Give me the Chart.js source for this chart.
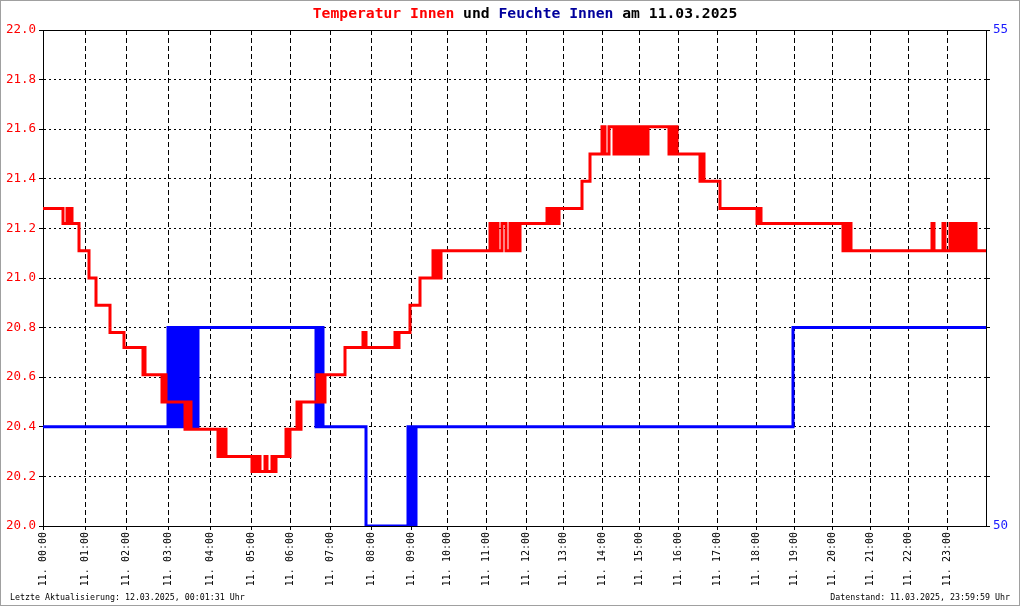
<!DOCTYPE html>
<html>
<head>
<meta charset="utf-8">
<script src="https://cdn.jsdelivr.net/npm/chart.js@4/dist/chart.umd.min.js"></script>
<style>
html,body{margin:0;padding:0;background:#fff;}
#wrap{width:1020px;height:606px;position:relative;}
</style>
</head>
<body>
<div id="wrap"><canvas id="c" width="1020" height="606"></canvas></div>
<script>
// x unit = logger sample number (943 samples on 11.03.2025)
const hourTicks = [0,42,83,125,167,208,247,287,328,368,404,443,483,520,559,596,635,674,713,751,789,827,865,904];
const hourLabels = ["11. 00:00","11. 01:00","11. 02:00","11. 03:00","11. 04:00","11. 05:00","11. 06:00","11. 07:00","11. 08:00","11. 09:00","11. 10:00","11. 11:00","11. 12:00","11. 13:00","11. 14:00","11. 15:00","11. 16:00","11. 17:00","11. 18:00","11. 19:00","11. 20:00","11. 21:00","11. 22:00","11. 23:00"];
const tempTicks = [20.0,20.2,20.4,20.6,20.8,21.0,21.2,21.4,21.6,21.8,22.0];
const humLabelled = [50,55];

// Temperatur Innen (°C): sample number where the value changes, and the new value
const tempX = [
  0, 20, 24, 25, 27, 29, 36, 46, 53, 67,
  81, 100, 101, 102, 119, 120, 121, 122, 123, 142,
  143, 145, 146, 148, 175, 177, 179, 181, 183, 209,
  211, 213, 215, 217, 222, 224, 229, 231, 233, 243,
  245, 247, 254, 256, 258, 274, 276, 278, 280, 282,
  302, 320, 323, 352, 354, 356, 367, 377, 390, 392,
  394, 396, 398, 447, 450, 453, 455, 459, 463, 467,
  469, 471, 473, 475, 476, 477, 504, 507, 509, 511,
  513, 515, 516, 539, 547, 559, 562, 566, 571, 574,
  576, 578, 580, 582, 584, 586, 588, 590, 592, 594,
  596, 598, 600, 602, 604, 605, 626, 628, 630, 632,
  634, 657, 659, 661, 677, 714, 716, 718, 800, 802,
  804, 806, 808, 889, 891, 900, 902, 907, 909, 911,
  913, 915, 917, 919, 921, 923, 925, 927, 929, 931,
  933, 943
];
const tempY = [
  21.28, 21.22, 21.28, 21.22, 21.28, 21.22, 21.11, 21.0, 20.89, 20.78,
  20.72, 20.61, 20.72, 20.61, 20.5, 20.61, 20.5, 20.61, 20.5, 20.39,
  20.5, 20.39, 20.5, 20.39, 20.28, 20.39, 20.28, 20.39, 20.28, 20.22,
  20.28, 20.22, 20.28, 20.22, 20.28, 20.22, 20.28, 20.22, 20.28, 20.39,
  20.28, 20.39, 20.5, 20.39, 20.5, 20.61, 20.5, 20.61, 20.5, 20.61,
  20.72, 20.78, 20.72, 20.78, 20.72, 20.78, 20.89, 21.0, 21.11, 21.0,
  21.11, 21.0, 21.11, 21.22, 21.11, 21.22, 21.11, 21.22, 21.11, 21.22,
  21.11, 21.22, 21.11, 21.22, 21.11, 21.22, 21.28, 21.22, 21.28, 21.22,
  21.28, 21.22, 21.28, 21.39, 21.5, 21.61, 21.5, 21.61, 21.5, 21.61,
  21.5, 21.61, 21.5, 21.61, 21.5, 21.61, 21.5, 21.61, 21.5, 21.61,
  21.5, 21.61, 21.5, 21.61, 21.5, 21.61, 21.5, 21.61, 21.5, 21.61,
  21.5, 21.39, 21.5, 21.39, 21.28, 21.22, 21.28, 21.22, 21.11, 21.22,
  21.11, 21.22, 21.11, 21.22, 21.11, 21.22, 21.11, 21.22, 21.11, 21.22,
  21.11, 21.22, 21.11, 21.22, 21.11, 21.22, 21.11, 21.22, 21.11, 21.22,
  21.11, 21.11
];

// Feuchte Innen (%)
const humX = [
  0, 125, 127, 129, 131, 133, 135, 137, 139, 141,
  143, 145, 147, 149, 150, 152, 154, 155, 273, 275,
  277, 279, 280, 323, 365, 367, 369, 371, 373, 750,
  943
];
const humY = [
  51, 52, 51, 52, 51, 52, 51, 52, 51, 52,
  51, 52, 51, 52, 51, 52, 51, 52, 51, 52,
  51, 52, 51, 50, 51, 50, 51, 50, 51, 52,
  52
];

const titleParts = [["Temperatur Innen","#ff0000"],[" und ","#000000"],["Feuchte Innen","#00009c"],[" am 11.03.2025","#000000"]];
const footLeft = "Letzte Aktualisierung: 12.03.2025, 00:01:31 Uhr";
const footRight = "Datenstand: 11.03.2025, 23:59:59 Uhr";

const MONO = "'DejaVu Sans Mono', 'Liberation Mono', monospace";

const pts = (xs, ys) => xs.map((x, i) => ({x: x, y: ys[i]}));

const decor = {
  id: 'decor',
  beforeDraw(chart) {
    const ctx = chart.ctx;
    ctx.save();
    ctx.fillStyle = '#ffffff';
    ctx.fillRect(0, 0, chart.width, chart.height);
    ctx.restore();
  },
  beforeDatasetsDraw(chart) {
    const ctx = chart.ctx, a = chart.chartArea;
    ctx.save();
    ctx.strokeStyle = '#000';
    ctx.lineWidth = 1;
    ctx.setLineDash([]);
    ctx.strokeRect(Math.round(a.left) + 0.5, Math.round(a.top) + 0.5, Math.round(a.right - a.left), Math.round(a.bottom - a.top));
    ctx.restore();
  },
  afterDraw(chart) {
    const ctx = chart.ctx;
    ctx.save();
    // title
    ctx.font = "bold 14.7px " + MONO;
    ctx.textBaseline = 'alphabetic';
    ctx.textAlign = 'left';
    let total = 0;
    titleParts.forEach(p => total += ctx.measureText(p[0]).width);
    let x = 525 - total / 2;
    titleParts.forEach(p => {
      ctx.fillStyle = p[1];
      ctx.fillText(p[0], x, 18);
      x += ctx.measureText(p[0]).width;
    });
    // footer
    ctx.font = "8.3px " + MONO;
    ctx.fillStyle = '#000';
    ctx.textAlign = 'left';
    ctx.fillText(footLeft, 10, 600);
    ctx.textAlign = 'right';
    ctx.fillText(footRight, 1010, 600);
    // outer frame
    ctx.strokeStyle = '#a0a0a0';
    ctx.lineWidth = 1;
    ctx.strokeRect(0.5, 0.5, chart.width - 1, chart.height - 1);
    ctx.restore();
  }
};

new Chart(document.getElementById('c'), {
  type: 'line',
  data: {
    datasets: [
      {
        label: 'Feuchte Innen',
        data: pts(humX, humY),
        yAxisID: 'yH',
        borderColor: '#0000ff',
        borderWidth: 3,
        stepped: true,
        pointRadius: 0,
        fill: false,
        order: 2
      },
      {
        label: 'Temperatur Innen',
        data: pts(tempX, tempY),
        yAxisID: 'yT',
        borderColor: '#ff0000',
        borderWidth: 3,
        stepped: true,
        pointRadius: 0,
        fill: false,
        order: 1
      }
    ]
  },
  plugins: [decor],
  options: {
    responsive: false,
    animation: false,
    events: [],
    layout: {padding: {top: 30, left: 0, right: 0, bottom: 0}},
    plugins: {legend: {display: false}, title: {display: false}, tooltip: {enabled: false}},
    scales: {
      x: {
        type: 'linear',
        min: 0,
        max: 943,
        afterBuildTicks(axis) { axis.ticks = hourTicks.map(v => ({value: v})); },
        afterFit(scale) { scale.height = 80; },
        ticks: {
          autoSkip: false,
          maxRotation: 90,
          minRotation: 90,
          padding: 2,
          color: '#000',
          font: {family: MONO, size: 10},
          callback: (v, i) => hourLabels[i]
        },
        grid: {
          color: '#000',
          lineWidth: 1,
          drawTicks: true,
          tickLength: 4,
          tickColor: '#000',
          tickBorderDash: []
        },
        border: {display: true, color: '#000', width: 1, dash: [5, 3]}
      },
      yT: {
        type: 'linear',
        position: 'left',
        min: 20,
        max: 22,
        afterBuildTicks(axis) { axis.ticks = tempTicks.map(v => ({value: v})); },
        afterFit(scale) { scale.width = 43; },
        ticks: {
          color: '#ff0000',
          padding: 3,
          font: {family: MONO, size: 12.5},
          callback: v => Number(v).toFixed(1)
        },
        grid: {
          color: '#000',
          lineWidth: 1,
          drawTicks: true,
          tickLength: 4,
          tickColor: '#000',
          tickBorderDash: []
        },
        border: {display: true, color: '#000', width: 1, dash: [2, 3]}
      },
      yH: {
        type: 'linear',
        position: 'right',
        min: 50,
        max: 55,
        ticks: {
          stepSize: 0.5,
          color: '#1a1aff',
          padding: 3,
          font: {family: MONO, size: 12.5},
          callback: v => humLabelled.includes(v) ? String(v) : ''
        },
        afterFit(scale) { scale.width = 34; },
        grid: {drawOnChartArea: false, drawTicks: true, tickLength: 4, tickColor: '#000'},
        border: {display: true, color: '#000', width: 1}
      }
    }
  }
});
</script>
</body>
</html>
